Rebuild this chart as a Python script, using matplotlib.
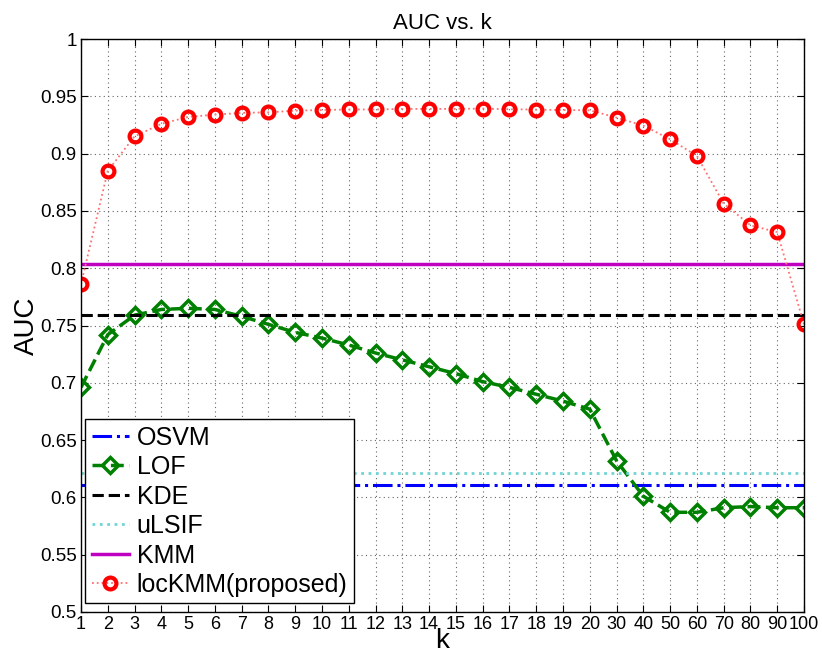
import matplotlib
matplotlib.use("Agg")
import matplotlib.pyplot as plt
import numpy as np

plt.rcParams['font.family'] = ['Liberation Sans', 'DejaVu Sans']

k_labels = ['1', '2', '3', '4', '5', '6', '7', '8', '9', '10', '11', '12', '13', '14',
            '15', '16', '17', '18', '19', '20', '30', '40', '50', '60', '70', '80', '90', '100']

osvm = 0.611
kde = 0.759
ulsif = 0.621
kmm = 0.804

lof = [0.696, 0.742, 0.759, 0.764, 0.765, 0.764, 0.758, 0.751, 0.744, 0.739, 0.733, 0.726,
       0.720, 0.714, 0.708, 0.701, 0.696, 0.690, 0.684, 0.677, 0.632, 0.601, 0.587, 0.587,
       0.591, 0.592, 0.591, 0.591]

lockmm = [0.786, 0.885, 0.915, 0.926, 0.932, 0.934, 0.9355, 0.936, 0.9375, 0.938, 0.9385,
          0.9385, 0.939, 0.939, 0.939, 0.9393, 0.9387, 0.9384, 0.938, 0.9378, 0.9314, 0.9244,
          0.9125, 0.898, 0.8564, 0.8375, 0.8314, 0.751]

x = np.arange(1, len(k_labels) + 1)

fig = plt.figure(figsize=(8.22, 6.55), dpi=100)
ax = fig.add_axes([81/822, 1 - 612/655, 723/822, 573/655])

ax.plot(x, [osvm]*len(x), color='#0000ff', ls='-.', lw=2.2, label='OSVM')
ax.plot(x, lof, color='#008000', ls='--', lw=2.5, marker='D', markersize=8,
        markerfacecolor='none', markeredgecolor='#008000', markeredgewidth=2.5, label='LOF')
ax.plot(x, [kde]*len(x), color='black', ls='--', lw=2.2, label='KDE')
ax.plot(x, [ulsif]*len(x), color='#70d4d4', ls=':', lw=2, label='uLSIF')
ax.plot(x, [kmm]*len(x), color='#c000c0', ls='-', lw=2.5, label='KMM')
ax.plot(x, lockmm, color='#ff7070', ls=':', lw=1.3, marker='o', markersize=8.5,
        markerfacecolor='none', markeredgecolor='#ff0000', markeredgewidth=3,
        label='locKMM(proposed)')

ax.set_xlim(1, len(x))
ax.set_ylim(0.5, 1.0)
ax.set_xticks(x)
ax.set_xticklabels(k_labels)
yt = np.arange(0.5, 1.0001, 0.05)
ax.set_yticks(yt)
ax.set_yticklabels(['0.5', '0.55', '0.6', '0.65', '0.7', '0.75', '0.8', '0.85', '0.9', '0.95', '1'])

ax.grid(True, ls=(0, (1, 3)), color='#666666', lw=0.8)
ax.tick_params(direction='in', top=True, right=True, labelsize=13.5, length=5, width=0.8, pad=3)
ax.tick_params(axis='x', labelsize=13)
for s in ax.spines.values():
    s.set_linewidth(1.0)

ax.set_title('AUC vs. k', fontsize=16, pad=7)
ax.set_xlabel('k', fontsize=20, labelpad=-4)
ax.set_ylabel('AUC', fontsize=20, labelpad=0)

leg = ax.legend(loc='lower left', bbox_to_anchor=(0.006, 0.015), fontsize=18, numpoints=1,
                handlelength=1.5, handletextpad=0.3, borderpad=0.25, labelspacing=0.22,
                fancybox=False, framealpha=1, edgecolor='black', borderaxespad=0)
leg.get_frame().set_linewidth(1.0)

fig.savefig('out.png', dpi=100)
